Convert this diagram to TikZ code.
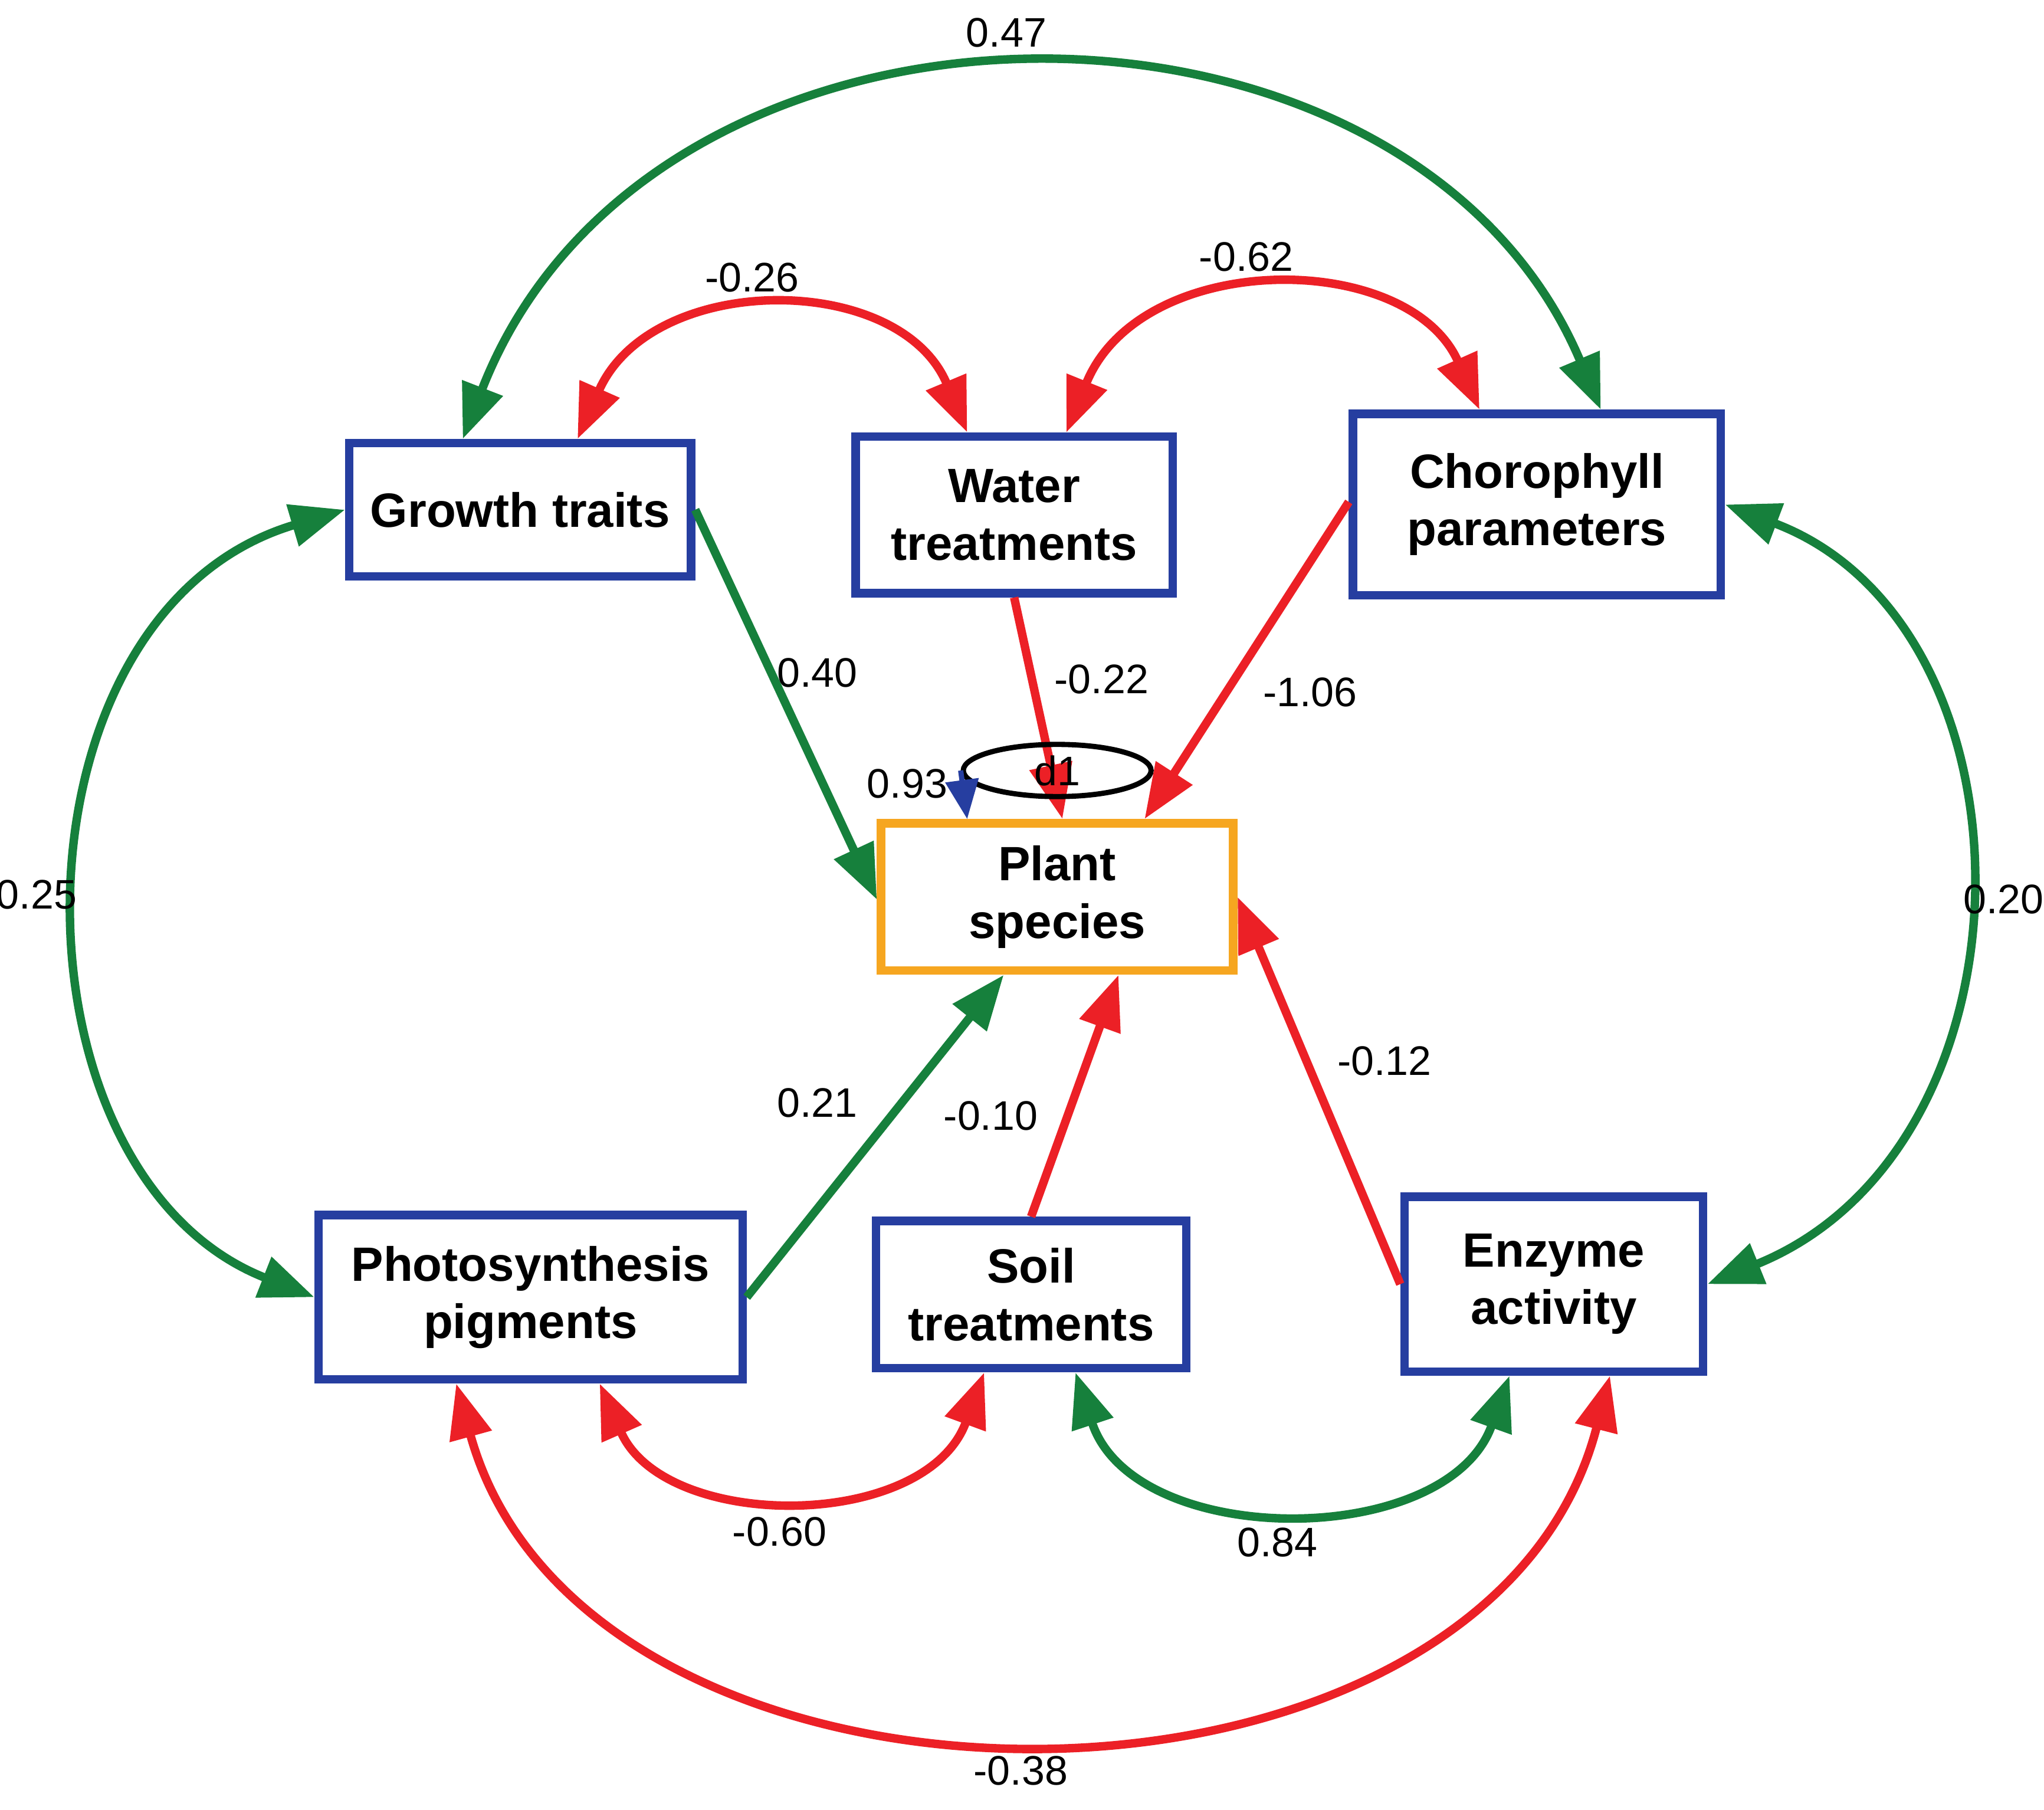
\documentclass[tikz,border=0pt]{standalone}
\usepackage{fontspec}
\setmainfont{Liberation Sans}
\usetikzlibrary{arrows.meta,shapes.geometric}
\definecolor{cg}{RGB}{22,128,60}
\definecolor{cr}{RGB}{236,32,38}
\definecolor{cb}{RGB}{38,62,160}
\definecolor{co}{RGB}{246,166,32}
\begin{document}
\begin{tikzpicture}[x=0.01cm,y=-0.01cm,
  box/.style={draw=cb,line width=0.065cm,fill=white,inner sep=0,align=center,font=\fontsize{10.5}{12.5}\selectfont\bfseries},
  lab/.style={font=\fontsize{9}{11}\selectfont},
  tip/.style={-{Triangle[length=0.42cm,width=0.32cm]}},
  dtip/.style={{Triangle[length=0.42cm,width=0.32cm]}-{Triangle[length=0.42cm,width=0.32cm]}},
  G/.style={draw=cg,line width=0.065cm},
  R/.style={draw=cr,line width=0.065cm}]
\useasboundingbox (0,0) rectangle (1568,1388);
\node[box,minimum width=2.62cm,minimum height=1.02cm] (gt) at (399,391) {Growth traits};
\node[box,minimum width=2.43cm,minimum height=1.2cm] (wt) at (778,395) {Water\\treatments};
\node[box,minimum width=2.82cm,minimum height=1.39cm] (cp) at (1179,387) {Chorophyll\\parameters};
\node[box,draw=co,minimum width=2.7cm,minimum height=1.13cm] (ps) at (811,688) {Plant\\species};
\node[box,minimum width=3.25cm,minimum height=1.26cm] (pp) at (407,995) {Photosynthesis\\pigments};
\node[box,minimum width=2.38cm,minimum height=1.13cm] (st) at (791,993) {Soil\\treatments};
\node[box,minimum width=2.29cm,minimum height=1.34cm] (ea) at (1192,985) {Enzyme\\activity};
% direct paths
\draw[G,tip] (gt.east) -- ([yshift=-0.02cm]ps.west);
\draw[R,tip] (wt.south) -- ([xshift=0.04cm]ps.north);
\draw[R,tip] ([yshift=0.02cm]cp.west) -- ([xshift=0.67cm]ps.north);
\draw[G,tip] (pp.east) -- ([xshift=-0.41cm]ps.south);
\draw[R,tip] (st.north) -- ([xshift=0.47cm]ps.south);
\draw[R,tip] (ea.west) -- (ps.east);
% d1
\node[draw=black,line width=0.04cm,ellipse,minimum width=1.44cm,minimum height=0.4cm,inner sep=0,lab] (d1) at (811,591) {d1};
\draw[cb,line width=0.04cm,-{Triangle[length=0.3cm,width=0.25cm]}] (d1.west) -- ([xshift=-0.69cm]ps.north);
% curved
\draw[G,dtip] ([xshift=-0.44cm]gt.north) .. controls (500,-36) and (1080,-36) .. ([xshift=0.49cm]cp.north);
\draw[R,dtip] ([xshift=0.44cm]gt.north) .. controls (500,208) and (690,208) .. ([xshift=-0.36cm]wt.north);
\draw[R,dtip] ([xshift=0.40cm]wt.north) .. controls (875,191) and (1080,191) .. ([xshift=-0.44cm]cp.north);
\draw[G,dtip] (gt.west) .. controls (0,470) and (0,900) .. (pp.west);
\draw[G,dtip] (cp.east) .. controls (1569,480) and (1569,880) .. (ea.east);
\draw[R,dtip] ([xshift=0.53cm]pp.south) .. controls (510,1175) and (710,1175) .. ([xshift=-0.36cm]st.south);
\draw[G,dtip] ([xshift=0.34cm]st.south) .. controls (870,1189) and (1110,1189) .. ([xshift=-0.34cm]ea.south);
\draw[R,dtip] ([xshift=-0.57cm]pp.south) .. controls (450,1423) and (1140,1423) .. ([xshift=0.43cm]ea.south);
% labels
\node[lab] (l1) at (772,25) {0.47};
\node[lab] (l2) at (577,213) {-0.26};
\node[lab] (l3) at (956,197) {-0.62};
\node[lab] (l4) at (28,686) {0.25};
\node[lab] (l5) at (1537,690) {0.20};
\node[lab] (l6) at (627,516) {0.40};
\node[lab] (l7) at (845,521) {-0.22};
\node[lab] (l8) at (1005,531) {-1.06};
\node[lab] (l9) at (696,601) {0.93};
\node[lab] (l10) at (627,846) {0.21};
\node[lab] (l11) at (760,856) {-0.10};
\node[lab] (l12) at (1062,814) {-0.12};
\node[lab] (l13) at (598,1175) {-0.60};
\node[lab] (l14) at (980,1183) {0.84};
\node[lab] (l15) at (783,1358) {-0.38};
\end{tikzpicture}
\end{document}
